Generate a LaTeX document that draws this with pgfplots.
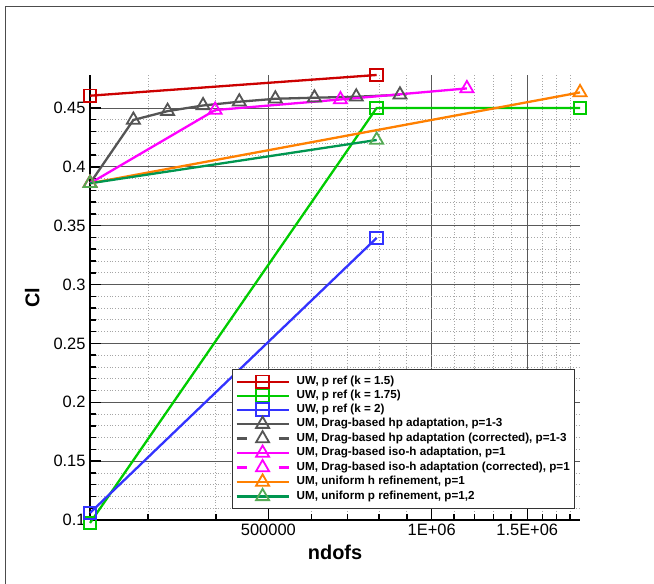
\documentclass[border=0pt]{standalone}
\usepackage{pgfplots}
\pgfplotsset{compat=1.18}
\usepackage{fontspec}
\setmainfont{Liberation Sans}
\definecolor{cRed}{RGB}{204,0,0}
\definecolor{cGreen}{RGB}{0,204,0}
\definecolor{cBlue}{RGB}{51,51,255}
\definecolor{cGray}{RGB}{85,85,85}
\definecolor{cMag}{RGB}{255,0,255}
\definecolor{cOrange}{RGB}{255,128,0}
\definecolor{cDGreen}{RGB}{0,150,80}
\definecolor{cLGreen}{RGB}{85,170,85}
\begin{document}
\begin{tikzpicture}[x=1bp,y=1bp]
\path[use as bounding box] (0,0) rectangle (654,584);
\draw[black!70, line width=0.8bp] (5,0) -- (5,578) -- (654,578);
\begin{axis}[
  at={(90bp,64bp)}, anchor=south west,
  scale only axis, width=490bp, height=445bp,
  xmode=log, xmin=234600, xmax=1876800,
  ymin=0.1, ymax=0.478,
  clip=false,
  axis x line*=bottom, axis y line*=left,
  every outer x axis line/.append style={-},
  every outer y axis line/.append style={-},
  axis line style={-, line width=2bp, black},
  xtick={500000,1000000,1500000},
  xticklabels={500000,1E+06,1.5E+06},
  minor xtick={300000,400000,600000,700000,800000,900000,1100000,1200000,1300000,1400000,1600000,1700000,1800000},
  ytick={0.1,0.15,0.2,0.25,0.3,0.35,0.4,0.45},
  yticklabels={0.1,0.15,0.2,0.25,0.3,0.35,0.4,0.45},
  minor y tick num=4,
  grid=both,
  major grid style={line width=0.9bp, black!65},
  minor grid style={line width=0.8bp, dotted, black!35},
  tick style={black, line width=1.5bp},
  major tick length=11bp, minor tick length=6bp,
  tick align=inside,
  /pgf/number format/assume math mode=true,
  ticklabel style={font=\fontsize{16.5}{17}\selectfont},
  xticklabel style={yshift=-1bp},
  yticklabel style={xshift=-1bp},
  xlabel={\textbf{ndofs}},
  ylabel={\textbf{Cl}},
  label style={font=\fontsize{20}{22}\selectfont},
  xlabel style={at={(axis description cs:0.5,-0.072)}, anchor=center},
  ylabel style={at={(axis description cs:-0.118,0.5)}, anchor=center, rotate=0},
  legend style={at={(0.2898,0.3393)}, anchor=north west, draw=black!80, line width=0.8bp, fill=white,
    font=\bfseries\fontsize{11.7}{12}\selectfont, inner xsep=3bp, inner ysep=5.5bp,
    cells={anchor=west}, nodes={text height=8bp, text depth=2.5bp, inner ysep=1.7bp}, row sep=0pt,
    /tikz/every odd column/.append style={column sep=5bp}},
  legend cell align=left,
  legend image code/.code={\draw[mark repeat=2,mark phase=2,#1] plot coordinates {(0bp,0bp) (26bp,0bp) (52bp,0bp)};},
  every axis plot/.append style={line width=2.3bp},
]
\addplot[cRed, line width=2.3bp, mark=square, mark size=6.3bp, mark options={solid, line width=1.8bp}]
  coordinates {(234600,0.4604) (791800,0.478)};
\addlegendentry{UW, p ref (k = 1.5)}
\addplot[cGreen, line width=2.3bp, mark=square, mark size=6.3bp, mark options={solid, line width=1.8bp}]
  coordinates {(234600,0.0975) (791800,0.450) (1876800,0.450)};
\addlegendentry{UW, p ref (k = 1.75)}
\addplot[cBlue, line width=2.3bp, mark=square, mark size=6.3bp, mark options={solid, line width=1.8bp}]
  coordinates {(234600,0.106) (791800,0.3396)};
\addlegendentry{UW, p ref (k = 2)}
\addplot[cGray, line width=2.3bp, mark=triangle, mark size=7.5bp, mark options={solid, line width=1.8bp}]
  coordinates {(234600,0.386) (282000,0.4398) (326000,0.4473) (379000,0.4521) (442000,0.4553) (515000,0.4578) (608000,0.4587) (726000,0.4595) (874000,0.4612)};
\addlegendentry{UM, Drag-based hp adaptation, p=1-3}
\addlegendimage{cGray, line width=2.3bp, dash pattern=on 10bp off 32bp, mark=triangle, mark size=7.5bp, mark options={solid, line width=1.8bp}}
\addlegendentry{UM, Drag-based hp adaptation (corrected), p=1-3}
\addplot[cMag, line width=2.3bp, mark=triangle, mark size=7.5bp, mark options={solid, line width=1.8bp}]
  coordinates {(234600,0.386) (399000,0.4482) (679000,0.4572) (1161000,0.4666)};
\addlegendentry{UM, Drag-based iso-h adaptation, p=1}
\addlegendimage{cMag, line width=2.3bp, dash pattern=on 10bp off 32bp, mark=triangle, mark size=7.5bp, mark options={solid, line width=1.8bp}}
\addlegendentry{UM, Drag-based iso-h adaptation (corrected), p=1}
\addplot[cOrange, line width=2.3bp, mark=triangle, mark size=7.5bp, mark options={solid, line width=1.8bp}]
  coordinates {(234600,0.386) (1876800,0.4632)};
\addlegendentry{UM, uniform h refinement, p=1}
\addplot[cDGreen, line width=2.3bp, mark=triangle, mark size=7.5bp, mark options={solid, line width=1.8bp, draw=cLGreen}]
  coordinates {(234600,0.386) (791800,0.4228)};
\addlegendentry{UM, uniform p refinement, p=1,2}
\end{axis}
\end{tikzpicture}
\end{document}
